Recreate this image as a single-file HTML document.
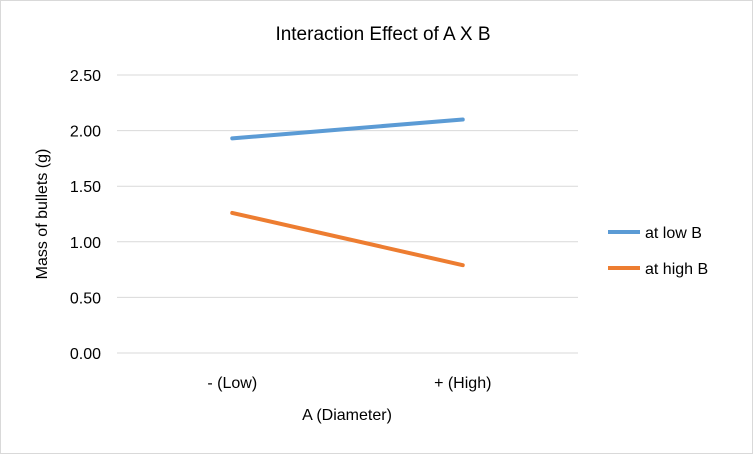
<!DOCTYPE html>
<html><head><meta charset="utf-8"><style>
body{margin:0;background:#fff}
svg{display:block;font-family:"Liberation Sans",sans-serif}
</style></head><body>
<svg id="chart" width="753" height="454">
<rect x="0.5" y="0.5" width="752" height="453" fill="#fff" stroke="#d9d9d9"/>
<text x="383" y="40" text-anchor="middle" font-size="19" fill="#000">Interaction Effect of A X B</text>
<g id="grid"></g>
<g id="yticks"></g>
<g id="xticks"></g>
<g id="series"></g>
<text transform="translate(47,214) rotate(-90)" text-anchor="middle" font-size="16" fill="#000">Mass of bullets (g)</text>
<text x="347" y="420" text-anchor="middle" font-size="16" fill="#000">A (Diameter)</text>
<g>
<g><line x1="608" y1="232" x2="640" y2="232" stroke="#5b9bd5" stroke-width="4"/><text x="645" y="238" font-size="16">at low B</text></g>
<g><line x1="608" y1="268" x2="640" y2="268" stroke="#ed7d31" stroke-width="4"/><text x="645" y="274" font-size="16">at high B</text></g>
</g>
</svg>
<script>
const categories=["- (Low)","+ (High)"];
const lowB=[1.93,2.10];
const highB=[1.26,0.79];
const yTicks=[0,0.5,1,1.5,2,2.5];
const yTickLabels=["0.00","0.50","1.00","1.50","2.00","2.50"];
const NS="http://www.w3.org/2000/svg";
const x0=117,x1=578,y0=353,yTop=75,yMax=2.5;
const yS=v=>y0-(v/yMax)*(y0-yTop);
const bw=(x1-x0)/categories.length;
const xS=i=>x0+bw*(i+0.5);
function mk(t,a,p){const e=document.createElementNS(NS,t);for(const k in a)e.setAttribute(k,a[k]);p.appendChild(e);return e;}
const grid=document.getElementById('grid'),yt=document.getElementById('yticks'),xt=document.getElementById('xticks'),ser=document.getElementById('series');
yTicks.forEach((v,i)=>{
 const l=mk('line',{x1:x0,x2:x1,y1:yS(v),y2:yS(v),stroke:'#d9d9d9','stroke-width':1},grid);
 
 
 const t=mk('text',{x:101,y:yS(v)+6,'text-anchor':'end','font-size':16},yt);
 t.textContent=yTickLabels[i];
 
 
});
categories.forEach((c,i)=>{
 const t=mk('text',{x:xS(i),y:388,'text-anchor':'middle','font-size':16},xt);
 t.textContent=c;
 
 
});
[[lowB,'#5b9bd5','line-low-b'],[highB,'#ed7d31','line-high-b']].forEach(([d,col,n])=>{
 const p=mk('polyline',{points:d.map((v,i)=>xS(i)+','+yS(v)).join(' '),fill:'none',stroke:col,'stroke-width':4,'stroke-linecap':'round'},ser);
 
 
});
</script>
</body></html>
